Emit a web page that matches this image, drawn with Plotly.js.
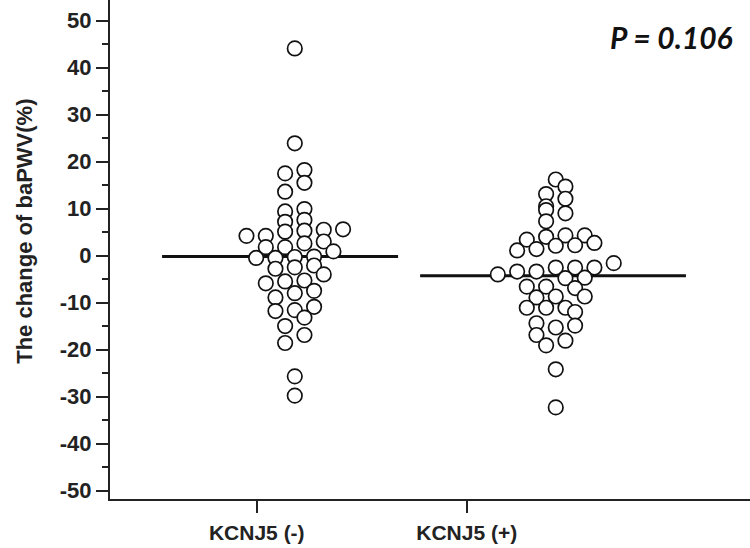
<!DOCTYPE html>
<html>
<head>
<meta charset="utf-8">
<script src="https://cdn.plot.ly/plotly-3.0.1.min.js"></script>
<style>html,body{margin:0;padding:0;background:#fff;}#chart{width:750px;height:548px;}</style>
</head>
<body>
<div id="chart"></div>
<script>
// ---- data ----
const categories = ["KCNJ5 (-)", "KCNJ5 (+)"];
const yTickVals = [-50, -40, -30, -20, -10, 0, 10, 20, 30, 40, 50];
const yTickText = ["-50", "-40", "-30", "-20", "-10", "0", "10", "20", "30", "40", "50"];

// change of baPWV (%) per patient
const valuesNeg = [44.1, 23.9, 17.5, 18.2, 15.5, 13.6, 9.4, 9.9, 7.2, 7.6, 5.1, 5.3, 4.2, 4.2, 5.5, 5.6,
  1.8, 1.8, 2.6, 3.0, 0.9, -0.5, -0.5, -0.3, -0.2, -2.8, -2.5, -2.1, -4.0, -5.9, -5.5, -5.3,
  -8.0, -7.5, -8.9, -11.8, -11.6, -10.9, -13.2, -15.0, -16.9, -18.6, -25.7, -29.8];
const valuesPos = [16.2, 14.7, 13.1, 12.1, 10.5, 9.7, 9.0, 7.3,
  3.4, 4.0, 4.3, 4.3, 1.1, 1.4, 2.1, 2.2, 2.7,
  -4.0, -3.4, -3.4, -2.55, -2.55, -2.55, -1.6, -4.8, -4.7,
  -6.6, -6.6, -6.9, -8.9, -8.7, -8.7, -11.1, -11.1, -11.1, -12.0,
  -14.4, -15.3, -14.9, -16.9, -18.1, -19.1, -24.2, -32.3];
// beeswarm slot (half-marker steps) of each point
const slotNeg = [1, 1, 0, 2, 2, 0, 0, 2, 0, 2, 0, 2, -4, -2, 4, 6,
  -2, 0, 2, 4, 5, -3, -1, 1, 3, -1, 1, 3, 4, -2, 0, 2,
  1, 3, -1, -1, 1, 3, 2, 0, 2, 0, 1, 1];
const slotPos = [1, 2, 0, 2, 0, 0, 2, 0,
  -2, 0, 2, 4, -3, -1, 1, 3, 5,
  -5, -3, -1, 1, 3, 5, 7, 2, 4,
  -2, 0, 3, -1, 1, 4, -2, 0, 2, 3,
  -1, 1, 3, -1, 2, 0, 1, 1];
const meanValues = [-0.2, -4.3];
const pText = "P = 0.106";
const yTitle = "The change of baPWV(%)";

// ---- drawing ----
const SLOT = 9.66 / 210;            // category units per slot
const swarmCenter = [0.135, 0.378]; // swarm centre relative to category tick
const meanExtent = [[-0.451, 0.673], [-0.222, 1.044]];

const groups = [[valuesNeg, slotNeg], [valuesPos, slotPos]];
const traces = [];
groups.forEach((g, i) => {
  traces.push({
    type: 'scatter', mode: 'lines',
    x: [i + meanExtent[i][0], i + meanExtent[i][1]],
    y: [meanValues[i], meanValues[i]],
    line: {color: '#111', width: 3},
    hoverinfo: 'skip', showlegend: false
  });
});
groups.forEach((g, i) => {
  traces.push({
    type: 'scatter', mode: 'markers',
    x: g[1].map(s => i + swarmCenter[i] + s * SLOT),
    y: g[0],
    marker: {symbol: 'circle', size: 14.5, color: '#fff', line: {color: '#111', width: 1.7}},
    showlegend: false, cliponaxis: false
  });
});

const fam = 'Liberation Sans, Arial, sans-serif';
const layout = {
  width: 750, height: 548,
  margin: {l: 110, r: 0, t: 0, b: 49, pad: 0},
  paper_bgcolor: '#fff', plot_bgcolor: '#fff',
  showlegend: false,
  xaxis: {
    range: [-0.699, 2.349], tickvals: [0, 1], ticktext: categories,
    showline: true, linecolor: '#222', linewidth: 2,
    ticks: 'outside', ticklen: 12, tickwidth: 2, tickcolor: '#222',
    showgrid: false, zeroline: false,
    tickfont: {family: fam, size: 21, color: '#222', weight: 'bold'}, ticklabelstandoff: 2
  },
  yaxis: {
    range: [-51.8, 54.4], tickvals: yTickVals, ticktext: yTickText,
    showline: true, linecolor: '#222', linewidth: 2,
    ticks: 'outside', ticklen: 12, tickwidth: 2, tickcolor: '#222',
    minor: {dtick: 5, tick0: 0, ticks: 'outside', ticklen: 6, tickwidth: 1.5, tickcolor: '#222'},
    showgrid: false, zeroline: false,
    tickfont: {family: fam, size: 22, color: '#222', weight: 'bold'}, ticklabelstandoff: 0
  },
  annotations: [
    {text: '<b><i>' + pText + '</i></b>', xref: 'paper', yref: 'paper',
     x: 0.977, y: 0.926, xanchor: 'right', yanchor: 'middle', showarrow: false,
     font: {family: 'Lato, Carlito, sans-serif', size: 30, color: '#111'}},
    {text: '<b>' + yTitle + '</b>', xref: 'paper', yref: 'paper', textangle: -90,
     x: -0.134, y: 0.536, xanchor: 'center', yanchor: 'middle', showarrow: false,
     font: {family: fam, size: 22, color: '#222'}}
  ]
};
Plotly.newPlot('chart', traces, layout, {displayModeBar: false, staticPlot: true});
</script>
</body>
</html>
